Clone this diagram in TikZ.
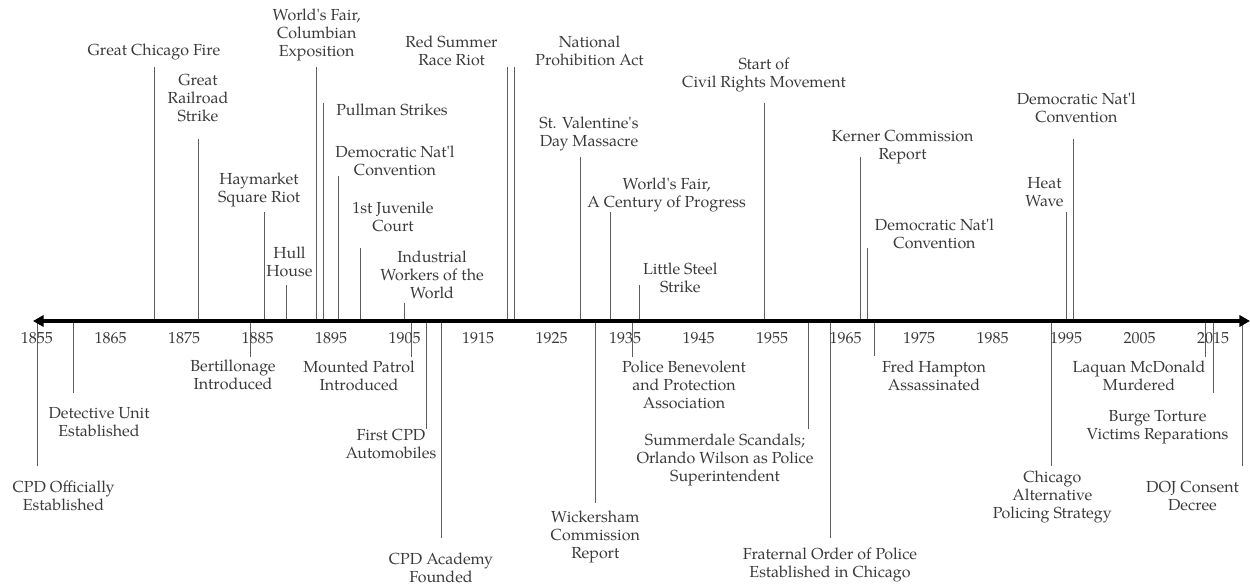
\documentclass[tikz,border=0pt]{standalone}
\usepackage{fontspec}
\setmainfont{TeX Gyre Pagella}
\usetikzlibrary{arrows.meta}
\definecolor{txt}{HTML}{3A3A3A}
\definecolor{ln}{HTML}{5E5E5E}
\newcommand\ap{\textquotesingle}
\newcommand\evt[6]{%
  \coordinate (#1a) at (#2,321);
  \coordinate (#1b) at (#2,#3);
  \draw[evline] (#1a) -- (#1b);
  \node[lbl] (#1) at (#5,#6) {#4};}
\begin{document}
\begin{tikzpicture}[x=0.75pt,y=-0.75pt,
  lbl/.style={font=\fontsize{12}{13.5}\selectfont, text=txt, align=center, inner sep=0pt},
  yrlbl/.style={font=\fontsize{12}{13.5}\selectfont, text=txt, inner sep=0pt},
  evline/.style={draw=ln, line width=0.65pt},
  axisline/.style={line width=3.6pt, {Triangle[length=8pt,width=8.5pt]}-{Triangle[length=8pt,width=8.5pt]}}]
\useasboundingbox (0,0) rectangle (1250,584);
% events above
\evt{fire}{154.7}{67}{Great Chicago Fire}{154}{51.5}
\evt{rail}{198.7}{139}{Great\\Railroad\\Strike}{198}{98}
\evt{hay}{264.7}{212}{Haymarket\\Square Riot}{259}{190}
\evt{hull}{286.7}{285}{Hull\\House}{289.5}{262}
\evt{wfc}{316.3}{67}{World\ap s Fair,\\Columbian\\Exposition}{316.7}{35}
\evt{pull}{323.3}{103}{Pullman Strikes}{392}{110}
\evt{dncA}{338.3}{176}{Democratic Nat\ap l\\Convention}{395}{161}
\evt{juv}{360}{248}{1st Juvenile\\Court}{393}{217}
\evt{iww}{404.7}{303}{Industrial\\Workers of the\\World}{432}{275}
\evt{red}{507.3}{67}{Red Summer\\Race Riot}{451.5}{51}
\evt{proh}{514.3}{67}{National\\Prohibition Act}{589.5}{51}
\evt{stv}{580.7}{157}{St. Valentine\ap s\\Day Massacre}{589}{134}
\evt{wfp}{610.3}{212}{World\ap s Fair,\\A Century of Progress}{666.7}{195}
\evt{steel}{639.3}{285}{Little Steel\\Strike}{680.3}{278}
\evt{civil}{764.3}{103}{Start of\\Civil Rights Movement}{764}{75}
\evt{kern}{860.3}{157}{Kerner Commission\\Report}{902.5}{147}
\evt{dncB}{867.3}{248}{Democratic Nat\ap l\\Convention}{934.5}{234}
\evt{heat}{1066}{212}{Heat\\Wave}{1044.5}{192}
\evt{dncC}{1073}{139}{Democratic Nat\ap l\\Convention}{1076.3}{108}
% events below
\evt{cpd}{37}{466}{CPD Officially\\Established}{63.5}{496}
\evt{det}{73.7}{393}{Detective Unit\\Established}{99}{422}
\evt{bert}{250}{357}{Bertillonage\\Introduced}{233}{375}
\evt{mount}{411.7}{357}{Mounted Patrol\\Introduced}{359}{376}
\evt{auto}{426.7}{429}{First CPD\\Automobiles}{391}{444}
\evt{acad}{441}{538}{CPD Academy\\Founded}{441}{567.5}
\evt{wick}{595.7}{503}{Wickersham\\Commission\\Report}{595.3}{537}
\evt{pbpa}{632}{357}{Police Benevolent\\and Protection\\Association}{684}{385}
\evt{summ}{808.7}{429}{Summerdale Scandals;\\Orlando Wilson as Police\\Superintendent}{725}{460}
\evt{fop}{830}{538}{Fraternal Order of Police\\Established in Chicago}{830}{565}
\evt{hamp}{874.3}{356}{Fred Hampton\\Assassinated}{934}{376}
\evt{caps}{1051.7}{466}{Chicago\\Alternative\\Policing Strategy}{1052.3}{497}
\evt{laq}{1205.7}{357}{Laquan McDonald\\Murdered}{1139}{376}
\evt{burge}{1213.3}{393}{Burge Torture\\Victims Reparations}{1157.5}{427}
\evt{doj}{1242.7}{466}{DOJ Consent\\Decree}{1192.5}{496}
% axis
\coordinate (axL) at (33,321);
\coordinate (axR) at (1250,321);
\draw[axisline] (axL) -- (axR);
% years
\foreach \y in {1855,1865,...,2015}{
  \node[yrlbl] (yr\y) at ({37+(\y-1855)*7.35},338) {\y};
}
\end{tikzpicture}
\end{document}
